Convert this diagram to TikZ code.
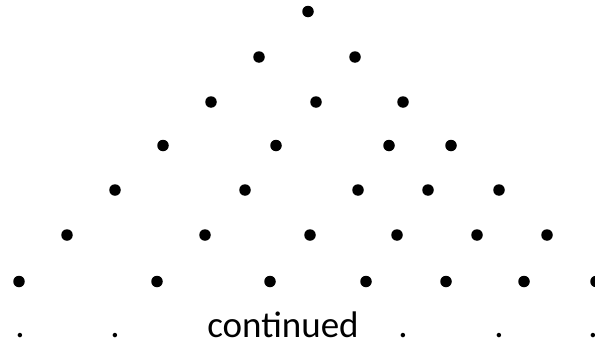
\documentclass[tikz,border=0pt]{standalone}
\usepackage{fontspec}
\setmainfont{Carlito}
\begin{document}
\begin{tikzpicture}
  [x=1pt,y=-1pt,
   dot/.style={circle,fill=black,inner sep=0pt,minimum size=11.5pt},
   lbl/.style={anchor=base,inner sep=0pt,font=\fontsize{37}{44}\selectfont}]
  \useasboundingbox (0,0) rectangle (595,343);

  % filas de puntos, de arriba hacia abajo
  \foreach \r/\y/\xs in {0/11.5/{308},
                         1/57/{259,355},
                         2/102/{211,316,403},
                         3/145.5/{163,276,389,451},
                         4/190/{115,245,358,428,499},
                         5/235/{67,205,310,397,477,547},
                         6/281.5/{19,157,270,366,446,524,596}}
    \foreach \x [count=\i] in \xs
      \node[dot] (d\r-\i) at (\x,\y) {};

  % ultima linea: puntos suspensivos y texto
  \node[lbl] (cont) at (283,337) {continued};
  \foreach \x [count=\i] in {20,115,403,499,593}
    \node[lbl] (p\i) at (\x,337) {.};
\end{tikzpicture}
\end{document}
